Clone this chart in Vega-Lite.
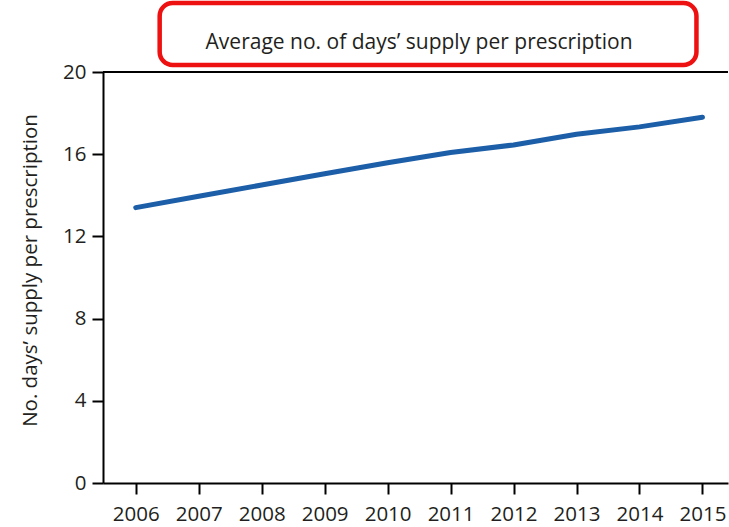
{
  "$schema": "https://vega.github.io/schema/vega-lite/v6.json",
  "width": 625,
  "height": 411,
  "autosize": {"type": "none"},
  "padding": {"left": 103, "top": 72, "right": 1, "bottom": 44},
  "background": "white",
  "config": {
    "view": {"stroke": null},
    "font": "Open Sans",
    "axis": {"grid": false, "domainColor": "#000000", "domainWidth": 2, "tickColor": "#000000", "tickWidth": 2, "labelColor": "#231f20", "titleColor": "#231f20", "labelFont": "Open Sans", "titleFont": "Open Sans", "labelFontSize": 20.5, "titleFontSize": 20.5, "titleFontWeight": "normal"}
  },
  "layer": [
    {
      "data": {"values": [{"top": 20}]},
      "mark": {"type": "rule", "color": "#000000", "strokeWidth": 2},
      "encoding": {"y": {"field": "top", "type": "quantitative"}}
    },
    {
      "data": {
        "values": [
          {"year": 2006, "days": 13.4},
          {"year": 2007, "days": 13.95},
          {"year": 2008, "days": 14.5},
          {"year": 2009, "days": 15.05},
          {"year": 2010, "days": 15.58},
          {"year": 2011, "days": 16.08},
          {"year": 2012, "days": 16.45},
          {"year": 2013, "days": 16.97},
          {"year": 2014, "days": 17.33},
          {"year": 2015, "days": 17.8}
        ]
      },
      "mark": {"type": "line", "color": "#1c5ea8", "strokeWidth": 5, "strokeCap": "round", "strokeJoin": "round"},
      "encoding": {
        "x": {
          "field": "year",
          "type": "quantitative",
          "scale": {"domain": [2005.48, 2015.406], "nice": false, "zero": false},
          "axis": {"title": null, "values": [2006, 2007, 2008, 2009, 2010, 2011, 2012, 2013, 2014, 2015], "format": "d", "tickSize": 11, "labelPadding": 10, "labelFlush": false}
        },
        "y": {
          "field": "days",
          "type": "quantitative",
          "scale": {"domain": [0, 20], "nice": false},
          "axis": {"title": "No. days’ supply per prescription", "values": [0, 4, 8, 12, 16, 20], "tickSize": 11, "labelPadding": 6, "titleX": -73, "titleY": 198, "titleAngle": -90, "titleAlign": "center", "titleBaseline": "middle"}
        }
      }
    },
    {
      "data": {"values": [{"x1": 2006.38, "x2": 2014.905, "y1": 23.36, "y2": 20.34, "label": "Average no. of days’ supply per prescription", "cx": 2010.5, "cy": 21.41}]},
      "mark": {"type": "rect", "fill": null, "stroke": "#ee1111", "strokeWidth": 4.5, "cornerRadius": 13, "clip": false},
      "encoding": {
        "x": {"field": "x1", "type": "quantitative"},
        "x2": {"field": "x2"},
        "y": {"field": "y1", "type": "quantitative"},
        "y2": {"field": "y2"}
      }
    },
    {
      "data": {"values": [{"label": "Average no. of days’ supply per prescription", "cx": 2010.5, "cy": 21.41}]},
      "mark": {"type": "text", "font": "Open Sans", "fontSize": 21, "fontWeight": "normal", "color": "#231f20", "align": "center", "baseline": "middle", "clip": false},
      "encoding": {
        "text": {"field": "label"},
        "x": {"field": "cx", "type": "quantitative"},
        "y": {"field": "cy", "type": "quantitative"}
      }
    }
  ]
}
